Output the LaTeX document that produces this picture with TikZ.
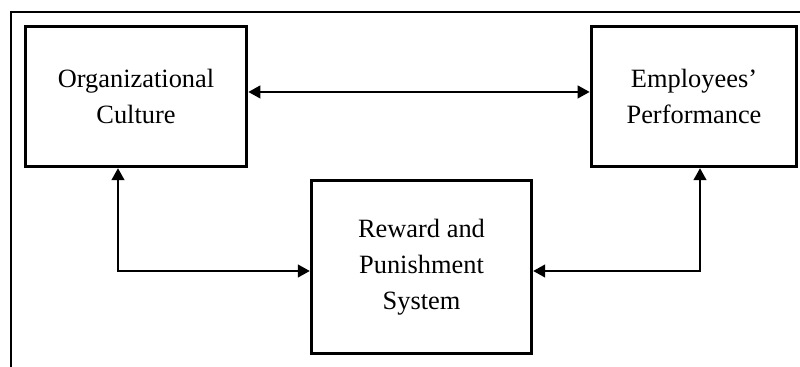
\documentclass[tikz,border=0pt]{standalone}
\usepackage{fontspec}
\setmainfont{Liberation Serif}
\usetikzlibrary{arrows.meta}
\begin{document}
\begin{tikzpicture}[x=0.75pt,y=-0.75pt,
  box/.style={draw,line width=2.5pt,align=center,inner sep=0pt,
    font=\fontsize{19.8}{27}\selectfont},
  link/.style={line width=1.6pt,{Triangle[length=9pt,width=9.5pt]}-{Triangle[length=9pt,width=9.5pt]}},
  frame/.style={line width=0.8pt}]
\useasboundingbox (0,0) rectangle (800,367);
\draw[frame] (11,367) -- (11,12) -- (800,12);
\node[box,minimum width=166pt,minimum height=105pt] (oc) at (136,96.5) {Organizational\\Culture};
\node[box,minimum width=154pt,minimum height=105pt] (ep) at (694,96.5) {Employees’\\Performance};
\node[box,minimum width=165pt,minimum height=130pt] (rp) at (421.5,267) {Reward and\\Punishment\\System};
\draw[link] ([yshift=3.4pt]oc.east) -- ([yshift=3.4pt]ep.west);
\draw[link] ([xshift=-13.5pt]oc.south) |- ([yshift=-3pt]rp.west);
\draw[link] ([xshift=4.5pt]ep.south) |- ([yshift=-3pt]rp.east);
\end{tikzpicture}
\end{document}
